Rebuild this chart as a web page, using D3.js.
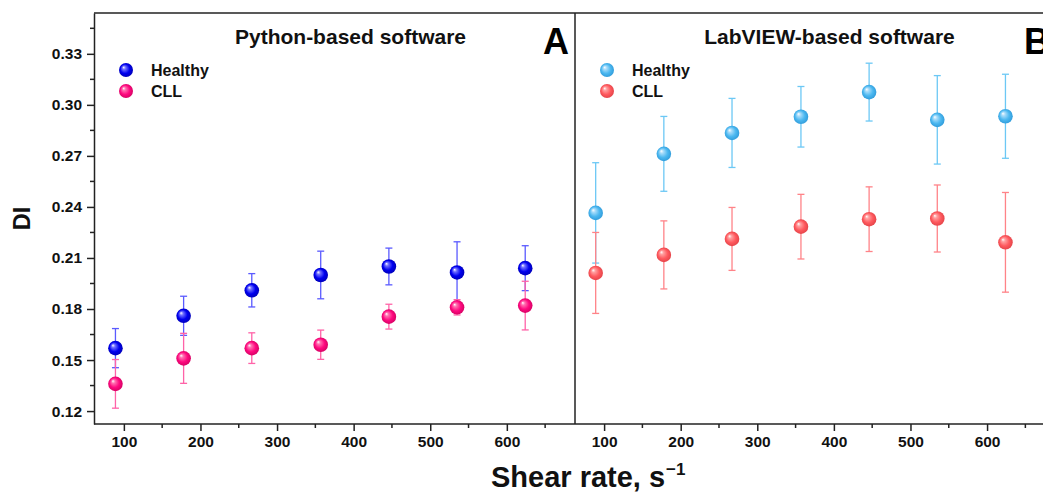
<!DOCTYPE html>
<html>
<head>
<meta charset="utf-8">
<script src="https://cdn.jsdelivr.net/npm/d3@7"></script>
<style>
  body { margin: 0; background: #fff; }
  svg { display: block; font-family: Arial, "Liberation Sans", sans-serif; }
</style>
</head>
<body>
<div id="chart"></div>
<script>
// shear rates (s^-1), same for both panels
const shearRates = [89, 178, 267, 357, 446, 535, 624];

// Python-based software
const pyHealthy    = [0.157, 0.176, 0.191, 0.200, 0.205, 0.2015, 0.204];
const pyHealthyErr = [0.0115, 0.0115, 0.0098, 0.014, 0.0108, 0.018, 0.0132];
const pyCLL        = [0.136, 0.151, 0.157, 0.159, 0.1755, 0.181, 0.182];
const pyCLLErr     = [0.0143, 0.0147, 0.009, 0.0086, 0.0073, 0.0045, 0.0143];

// LabVIEW-based software
const lvHealthy    = [0.2365, 0.2712, 0.2835, 0.293, 0.3075, 0.2912, 0.2933];
const lvHealthyErr = [0.0295, 0.022, 0.0203, 0.0178, 0.017, 0.026, 0.0247];
const lvCLL        = [0.2012, 0.2118, 0.2212, 0.2284, 0.2328, 0.2332, 0.2192];
const lvCLLErr     = [0.0238, 0.02, 0.0185, 0.019, 0.019, 0.0197, 0.0293];

const yTicks = [0.12, 0.15, 0.18, 0.21, 0.24, 0.27, 0.30, 0.33];
const xTicks = [100, 200, 300, 400, 500, 600];
const seriesNames = ['Healthy', 'CLL'];

const width = 1043, height = 495;
const plotTop = 13, plotBottom = 424;

const svg = d3.select('#chart')
  .append('svg')
    .attr('width', width)
    .attr('height', height);

const defs = svg.append('defs');
function ball(id, light, base, dark) {
  const g = defs.append('radialGradient')
    .attr('id', id)
    .attr('cx', '50%').attr('cy', '50%').attr('r', '55%')
    .attr('fx', '32%').attr('fy', '30%');
  g.append('stop').attr('offset', '0%').attr('stop-color', '#ffffff');
  g.append('stop').attr('offset', '22%').attr('stop-color', light);
  g.append('stop').attr('offset', '60%').attr('stop-color', base);
  g.append('stop').attr('offset', '100%').attr('stop-color', dark);
}
ball('gBlue', '#7070ff', '#0000f0', '#0000b0');
ball('gPink', '#ff70b0', '#ff0a80', '#d0005f');
ball('gSky', '#a8dcfa', '#4cb8f0', '#2c98d8');
ball('gSalmon', '#ffa0a0', '#ff5a5f', '#e04045');

const y = d3.scaleLinear()
  .domain([0.1124, 0.354])
  .range([plotBottom, plotTop]);

const panels = [
  {title: 'Python-based software', letter: 'A', x0: 94, x1: 575, dom: [61, 689], titleShift: 16,
   series: [
     {name: seriesNames[0], vals: pyHealthy, err: pyHealthyErr, fill: 'url(#gBlue)', bar: '#5a5aff'},
     {name: seriesNames[1], vals: pyCLL, err: pyCLLErr, fill: 'url(#gPink)', bar: '#ff63a8'}
   ]},
  {title: 'LabVIEW-based software', letter: 'B', x0: 575, x1: 1056, dom: [62, 690], titleShift: 14,
   series: [
     {name: seriesNames[0], vals: lvHealthy, err: lvHealthyErr, fill: 'url(#gSky)', bar: '#6cc8f5'},
     {name: seriesNames[1], vals: lvCLL, err: lvCLLErr, fill: 'url(#gSalmon)', bar: '#ff8388'}
   ]}
];

panels.forEach(p => {
  const x = d3.scaleLinear().domain(p.dom).range([p.x0, p.x1]);
  const g = svg.append('g');

  // x axis with minor ticks
  const minorX = d3.range(150, 700, 100);
  g.append('g')
    .attr('transform', `translate(0,${plotBottom})`)
    .selectAll('line').data(minorX).join('line')
      .attr('x1', d => x(d)).attr('x2', d => x(d))
      .attr('y1', 0).attr('y2', 4)
      .attr('stroke', '#222').attr('stroke-width', 1.5);
  const xAxis = g.append('g')
    .attr('transform', `translate(0,${plotBottom})`)
    .call(d3.axisBottom(x).tickValues(xTicks).tickSize(7).tickPadding(5).tickSizeOuter(0));
  xAxis.select('.domain').remove();
  xAxis.selectAll('line').attr('stroke', '#222').attr('stroke-width', 1.5);
  xAxis.selectAll('text')
    .attr('font-size', 15.5).attr('font-weight', 'bold').attr('fill', '#111')
    .attr('font-family', 'Arial, "Liberation Sans", sans-serif');

  // series
  p.series.forEach(s => {
    const sg = g.append('g');
    const pts = shearRates.map((r, i) => ({r, v: s.vals[i], e: s.err[i]}));
    sg.selectAll('line.eb').data(pts).join('line')
      .attr('x1', d => x(d.r)).attr('x2', d => x(d.r))
      .attr('y1', d => y(d.v + d.e)).attr('y2', d => y(d.v - d.e))
      .attr('stroke', s.bar).attr('stroke-width', 1.3);
    [1, -1].forEach(sign => {
      sg.append('g').selectAll('line').data(pts).join('line')
        .attr('x1', d => x(d.r) - 3.5).attr('x2', d => x(d.r) + 3.5)
        .attr('y1', d => y(d.v + sign * d.e))
        .attr('y2', d => y(d.v + sign * d.e))
        .attr('stroke', s.bar).attr('stroke-width', 1.3);
    });
    sg.append('g').selectAll('circle').data(pts).join('circle')
      .attr('cx', d => x(d.r)).attr('cy', d => y(d.v))
      .attr('r', 7.3).attr('fill', s.fill);
  });

  // legend
  const lx = p.x0 + 32;
  p.series.forEach((s, i) => {
    const ly = 70 + i * 21;
    g.append('circle').attr('cx', lx).attr('cy', ly).attr('r', 7).attr('fill', s.fill);
    g.append('text').attr('x', lx + 25).attr('y', ly + 5.5)
      .attr('font-size', 16).attr('font-weight', 'bold').attr('fill', '#111')
      .text(s.name);
  });

  // title and panel letter
  g.append('text')
    .attr('x', (p.x0 + p.x1) / 2 + p.titleShift)
    .attr('y', 44)
    .attr('text-anchor', 'middle')
    .attr('font-size', 21).attr('font-weight', 'bold').attr('fill', '#111')
    .text(p.title);
  g.append('text')
    .attr('x', p.x0 + 449)
    .attr('y', 54)
    .attr('font-size', 36).attr('font-weight', 'bold').attr('fill', '#000')
    .text(p.letter);
});

// frame
svg.append('line').attr('x1', 94).attr('x2', width).attr('y1', plotTop).attr('y2', plotTop)
  .attr('stroke', '#222').attr('stroke-width', 1.5);
svg.append('line').attr('x1', 94).attr('x2', width).attr('y1', plotBottom).attr('y2', plotBottom)
  .attr('stroke', '#222').attr('stroke-width', 1.5);
svg.append('line').attr('x1', 575).attr('x2', 575).attr('y1', plotTop).attr('y2', plotBottom)
  .attr('stroke', '#222').attr('stroke-width', 1.5);

// y axis with minor ticks
const minorY = d3.range(0.135, 0.35, 0.03);
svg.append('g')
  .attr('transform', 'translate(94,0)')
  .selectAll('line').data(minorY).join('line')
    .attr('x1', -4).attr('x2', 0)
    .attr('y1', d => y(d)).attr('y2', d => y(d))
    .attr('stroke', '#222').attr('stroke-width', 1.5);
const yAxis = svg.append('g')
  .attr('transform', 'translate(94,0)')
  .call(d3.axisLeft(y).tickValues(yTicks).tickFormat(d3.format('.2f')).tickSize(7).tickPadding(5).tickSizeOuter(0));
yAxis.select('.domain').attr('stroke', '#222').attr('stroke-width', 1.5);
yAxis.selectAll('line').attr('stroke', '#222').attr('stroke-width', 1.5);
yAxis.selectAll('text')
  .attr('font-size', 15.5).attr('font-weight', 'bold').attr('fill', '#111')
  .attr('font-family', 'Arial, "Liberation Sans", sans-serif');

// axis titles
svg.append('text')
  .attr('transform', `translate(30,${(plotTop + plotBottom) / 2}) rotate(-90)`)
  .attr('text-anchor', 'middle')
  .attr('font-size', 23.5).attr('font-weight', 'bold').attr('fill', '#111')
  .text('DI');

const xt = svg.append('text')
  .attr('x', 491).attr('y', 487)
  .attr('font-size', 29).attr('font-weight', 'bold').attr('fill', '#111');
xt.append('tspan').text('Shear rate, s');
xt.append('tspan').attr('dx', 1).attr('dy', -12).attr('font-size', 17).text('\u22121');
</script>
</body>
</html>
